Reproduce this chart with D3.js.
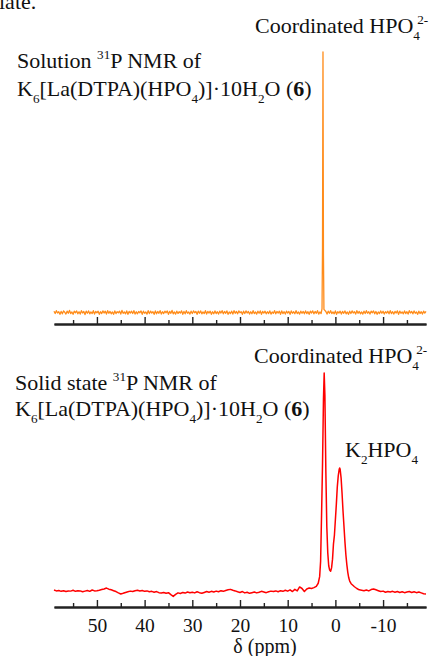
<!DOCTYPE html>
<html><head><meta charset="utf-8">
<script src="https://cdn.jsdelivr.net/npm/d3@7"></script>
<style>
body{margin:0;background:#fff}
svg{display:block}
text{font-family:"Liberation Serif","Times New Roman",serif;fill:#111}
</style>
</head><body><svg id="c" width="431" height="656"></svg>
<script>
// ---------- data ----------
const ppmDomain = [59, -19];
const majorTicks = [50, 40, 30, 20, 10, 0, -10];
const minorTicks = [55, 45, 35, 25, 15, 5, -5, -15];
const tickLabels = ["50", "40", "30", "20", "10", "0", "-10"];
const axisTitle = "δ (ppm)";

// Solution 31P NMR (orange): sampled every 0.25 ppm on the baseline, finer across the peak.
const solutionStep = 0.25;
const solutionLeftVal = [
0.5,-0.4,0.7,-0.2,0.3,-0.7,0.4,-0.5,0.6,0.1,-0.6,0.5,-0.3,0.8,-0.4,
0.2,-0.7,0.5,-0.1,0.6,-0.5,0.3,-0.6,0.7,-0.2,0.4,-0.8,0.5,-0.3,0.6,
-0.5,0.2,-0.4,0.7,-0.6,0.4,-0.1,0.5,-0.7,0.3,-0.4,0.6,-0.2,0.5,-0.6,
0.7,-0.3,0.4,-0.5,0.2,-0.7,0.6,-0.4,0.3,-0.1,0.5,-0.6,0.8,-0.3,0.2,
-0.5,0.6,-0.7,0.4,-0.2,0.5,-0.4,0.7,-0.6,0.3,-0.5,0.4,-0.1,0.6,-0.7,
0.5,-0.3,0.2,-0.6,0.7,-0.4,0.5,-0.2,0.3,-0.7,0.6,-0.5,0.4,-0.3,0.7,
-0.6,0.3,-0.4,0.5,-0.1,0.6,-0.7,0.4,-0.3,0.8,-0.5,0.2,-0.6,0.5,-0.4,
0.3,-0.2,0.6,-0.7,0.4,-0.5,0.7,-0.3,0.2,-0.6,0.5,-0.4,0.6,-0.1,0.4,
-0.7,0.5,-0.3,0.6,-0.5,0.2,-0.4,0.7,-0.6,0.4,-0.2,0.5,-0.7,0.3,-0.5,
0.6,-0.4,0.3,-0.6,0.5,-0.2,0.7,-0.5,0.4,-0.3,0.6,-0.7,0.2,-0.4,0.5,
-0.6,0.7,-0.3,0.4,-0.5,0.6,-0.1,0.3,-0.7,0.5,-0.4,0.6,-0.2,0.4,-0.6,
0.3,-0.5,0.7,-0.4,0.2,-0.6,0.5,-0.3,0.6,-0.7,0.4,-0.2,0.5,-0.5,0.3,
-0.4,0.6,-0.6,0.2,-0.3,0.7,-0.5,0.4,-0.2,0.5,-0.7,0.6,-0.4,0.3,-0.6,
0.5,-0.2,0.4,-0.7,0.6,-0.3,0.3,-0.5,0.7,-0.4,0.2,-0.6,0.5,-0.3,0.4,
-0.5,0.6,-0.4,0.3,-0.7,0.5,-0.2,0.6,-0.5,0.4,-0.3,0.7,-0.6,0.2,-0.4];
const solutionPeakPpm = [2.8, 2.7, 2.6, 2.5, 2.4];
const solutionPeakVal = [1.5, 25, 100, 22, 1.2];
const solutionRightVal = [
0.4,-0.6,0.5,-0.3,0.7,-0.4,0.2,-0.5,0.6,-0.7,0.3,-0.2,0.5,-0.6,0.4,-0.3,0.6,
-0.5,0.2,-0.7,0.5,-0.4,0.6,-0.2,0.3,-0.6,0.7,-0.3,0.4,-0.5,0.2,-0.6,0.5,-0.4,
0.7,-0.3,0.3,-0.6,0.5,-0.1,0.6,-0.5,0.4,-0.7,0.2,-0.4,0.6,-0.3,0.5,-0.6,0.3,
-0.2,0.5,-0.5,0.7,-0.4,0.3,-0.6,0.4,-0.2,0.6,-0.7,0.5,-0.3,0.2,-0.5,0.6,-0.4,
0.3,-0.6,0.7,-0.2,0.4,-0.5,0.6,-0.3,0.2,-0.7,0.5,-0.4,0.3,-0.6,0.5,-0.2,0.4];

// Solid state 31P NMR (red), relative intensity (tallest peak = 100)
const solidPpm = [59,58.5,58,57.5,57,56.5,56,55.5,55,54.5,54,53.5,53,52.5,52,51.5,51,50.5,50,49.5,49,48.5,48,47.5,47,46.5,46,45.5,45,44.5,44,43.5,43,42.5,42,41.5,41,40.5,40,39.5,39,38.5,38,37.5,37,36.5,36,35.5,35,34.5,34,33.5,33,32.5,32,31.5,31,30.5,30,29.5,29,28.5,28,27.5,27,26.5,26,25.5,25,24.5,24,23.5,23,22.5,22,21.5,21,20.5,20,19.5,19,18.5,18,17.5,17,16.5,16,15.5,15,14.5,14,13.5,13,12.5,12,11.5,11,10.5,10,9.5,9,8.5,8,7.5,7,6.5,6,5.5,5,4.5,4,
3.6,3.3,3.1,2.9,2.7,2.5,2.35,2.2,2.0,1.8,1.6,1.4,1.2,1.0,0.8,0.6,0.4,0.2,0.0,-0.2,-0.4,-0.6,-0.8,-0.9,-1.0,-1.2,-1.4,-1.6,-1.8,-2.0,-2.2,-2.4,-2.6,-2.8,-3.0,-3.3,-3.6,-4.0,
-4.5,-5,-5.5,-6,-6.5,-7,-7.5,-8,-8.5,-9,-9.5,-10,-10.5,-11,-11.5,-12,-12.5,-13,-13.5,-14,-14.5,-15,-15.5,-16,-16.5,-17,-17.5,-18,-18.5,-19];
const solidVal = [0.9,0.5,0.7,0.3,0.6,0.2,0.5,0.4,0.8,0.3,
0.6,0.5,0.1,0.4,0.7,0.3,0.9,0.5,0.6,0.8,
1.1,1.4,1.8,1.3,1.0,0.6,0.2,-0.4,-0.9,-0.6,
-0.2,0.1,0.4,0.2,0.6,0.8,0.5,0.7,0.3,0.5,
0.1,0.3,-0.1,0.2,-0.3,-0.5,-0.2,-0.6,-0.3,-1.2,
-2.0,-1.1,-0.4,-0.7,-0.2,-0.5,0.0,-0.3,-0.1,-0.4,
0.1,-0.3,-0.6,-0.2,0.2,-0.1,0.3,0.0,0.4,0.1,
0.6,0.3,0.7,1.0,1.2,0.8,0.5,0.1,-0.2,0.2,
-0.4,-0.1,-0.6,-0.3,0.0,-0.4,-0.1,0.3,0.0,-0.3,
0.1,0.4,0.2,0.5,0.1,0.6,0.3,0.8,0.4,1.0,
0.2,1.2,0.5,2.3,1.6,0.2,1.4,1.8,1.6,2.0,
2.6,
4,7,14,35,58,88,100,90,55,30,18,12,10,9.5,11,15,22,26,33,40,48,53,56,56.6,56,52,45,37,30,23,17,12.5,9,6.5,5,3.8,3.2,2.4,
1.6,1.0,0.8,0.6,0.9,0.5,1.1,1.4,1.0,0.6,0.2,0.4,-0.1,0.2,0.0,0.3,-0.1,0.2,-0.2,0.1,-0.3,0.0,0.2,-0.2,0.1,-0.3,0.0,-0.4,-0.8,-0.9];

// text labels (parts: [text, style])
const topCutText = "late.";
const coordLabel = [["Coordinated HPO",""],["4","sub"],["2-","sup"]];
const solutionLine1 = [["Solution ",""],["31","sup"],["P NMR of",""]];
const compoundLine = [["K",""],["6","sub"],["[La(DTPA)(HPO",""],["4","sub"],[")]·10H",""],["2","sub"],["O (",""],["6","b"],[")",""]];
const solidLine1 = [["Solid state ",""],["31","sup"],["P NMR of",""]];
const k2Label = [["K",""],["2","sub"],["HPO",""],["4","sub"]];

// ---------- drawing ----------
const svg = d3.select("#c");
const x = d3.scaleLinear().domain(ppmDomain).range([54, 426]);
const ySol = d3.scaleLinear().domain([0, 100]).range([312.5, 52]);
const ySolid = d3.scaleLinear().domain([0, 100]).range([592, 373]);

function rich(x0, y0, parts, size) {
  const t = svg.append("text").attr("x", x0).attr("y", y0).attr("font-size", size);
  let shift = 0;
  parts.forEach(([s, k], i) => {
    const ts = t.append("tspan").text(s);
    let target = 0, fs = size;
    if (k === "sub") { target = size * 0.3; fs = size * 0.6; }
    if (k === "sup") { target = -size * 0.42; fs = size * 0.6; }
    ts.attr("dy", target - shift).attr("font-size", fs);
    if (k === "sup" && i > 0 && parts[i - 1][1] === "sub") ts.attr("dx", -size * 0.12);
    if (k === "b") ts.attr("font-weight", "bold");
    shift = target;
  });
  return t;
}

function drawAxis(yPos, withLabels) {
  const gMinor = svg.append("g").attr("transform", `translate(0,${yPos})`)
    .call(d3.axisBottom(x).tickValues(minorTicks).tickSize(-4).tickSizeOuter(0).tickFormat(""));
  const gMajor = svg.append("g").attr("transform", `translate(0,${yPos})`)
    .call(d3.axisBottom(x).tickValues(majorTicks).tickSize(-7).tickSizeOuter(0)
      .tickFormat((d, i) => withLabels ? tickLabels[i] : ""));
  [gMinor, gMajor].forEach(g => {
    g.select(".domain").attr("stroke", "#222").attr("stroke-width", 1.8);
    g.selectAll(".tick line").attr("stroke", "#222").attr("stroke-width", 1.4);
  });
  gMajor.selectAll(".tick text")
    .attr("y", 24.5).attr("dy", 0)
    .attr("font-family", "Liberation Serif, Times New Roman, serif")
    .attr("font-size", 19.5).attr("fill", "#111");
}

drawAxis(324, false);
drawAxis(607, true);

const solutionLeftPpm = d3.range(59, 2.9, -solutionStep);
const solutionRightPpm = d3.range(2, -19.1, -solutionStep);
const solutionData = [
  ...d3.zip(solutionLeftPpm, solutionLeftVal),
  ...d3.zip(solutionPeakPpm, solutionPeakVal),
  ...d3.zip(solutionRightPpm, solutionRightVal)
];
const solidData = d3.zip(solidPpm, solidVal);

svg.append("path").datum(solutionData)
  .attr("fill", "none").attr("stroke", "#ff8c1a").attr("stroke-width", 1.3)
  .attr("stroke-linejoin", "round")
  .attr("d", d3.line().x(d => x(d[0])).y(d => ySol(d[1])));

svg.append("path").datum(solidData)
  .attr("fill", "none").attr("stroke", "#ff0000").attr("stroke-width", 1.5)
  .attr("stroke-linejoin", "round")
  .attr("d", d3.line().x(d => x(d[0])).y(d => ySolid(d[1])));

// texts
svg.append("text").attr("x", -1).attr("y", 9).attr("font-size", 22).text(topCutText);
rich(255, 33, coordLabel, 22);
rich(17, 68, solutionLine1, 22);
rich(17, 96, compoundLine, 22);

rich(254, 363, coordLabel, 22);
rich(15, 390, solidLine1, 22);
rich(15, 416, compoundLine, 22);
rich(345, 457, k2Label, 22);

svg.append("text").attr("x", 265).attr("y", 652.5).attr("text-anchor", "middle")
  .attr("font-size", 20).text(axisTitle);
</script>
</body></html>
